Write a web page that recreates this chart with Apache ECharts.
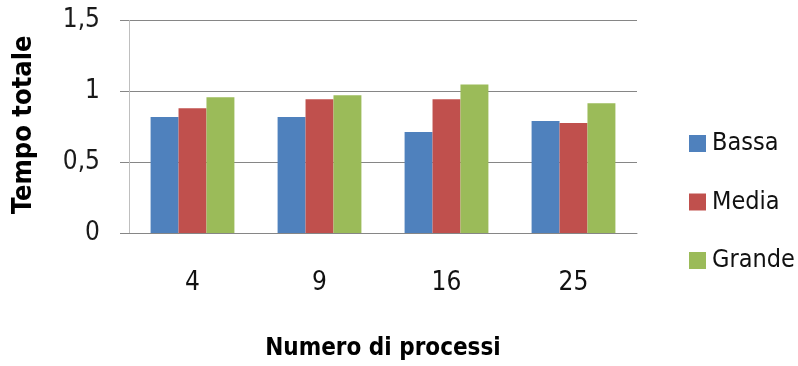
<!DOCTYPE html>
<html>
<head>
<meta charset="utf-8">
<script src="https://cdn.jsdelivr.net/npm/echarts@6/dist/echarts.min.js"></script>
<style>html,body{margin:0;padding:0;background:#fff}#c{width:798px;height:366px}</style>
</head>
<body>
<div id="c"></div>
<script>
const categories = ['4', '9', '16', '25'];
const bassa = [0.818, 0.818, 0.713, 0.790];
const media = [0.881, 0.944, 0.944, 0.776];
const grande = [0.958, 0.972, 1.049, 0.916];
const yTicks = [0, 0.5, 1, 1.5];

const FONT = "'DejaVu Sans Condensed', 'Liberation Sans', sans-serif";
const chart = echarts.init(document.getElementById('c'));
chart.setOption({
  animation: false,
  textStyle: { fontFamily: FONT },
  grid: { left: 129, right: 161, top: 20.5, bottom: 131, containLabel: false },
  legend: {
    orient: 'vertical', left: 684, top: 126,
    itemWidth: 17, itemHeight: 17, itemGap: 33.5,
    icon: 'rect',
    textStyle: { fontSize: 25, color: '#111', fontFamily: FONT, padding: [0, 0, 0, 1] },
    data: ['Bassa', 'Media', 'Grande']
  },
  xAxis: {
    type: 'category', data: categories,
    axisLine: { lineStyle: { color: '#868686', width: 1 } },
    axisTick: { show: false },
    axisLabel: { fontSize: 26, color: '#111', margin: 37, fontFamily: FONT },
    name: 'Numero di processi', nameLocation: 'middle', nameGap: 104,
    nameTextStyle: { fontSize: 24, fontWeight: 'bold', color: '#000', fontFamily: FONT }
  },
  yAxis: {
    type: 'value', min: 0, max: 1.5, interval: 0.5,
    axisLine: { show: true, lineStyle: { color: '#bfbfbf', width: 1 } },
    axisTick: { show: true, length: 9, lineStyle: { color: '#868686', width: 1 } },
    splitLine: { lineStyle: { color: '#868686', width: 1 } },
    axisLabel: { fontSize: 26, color: '#1a1a1a', margin: 29, fontFamily: FONT,
      formatter: v => (yTicks.includes(v) ? String(v).replace('.', ',') : '') },
    name: 'Tempo totale', nameLocation: 'middle', nameGap: 92, nameRotate: 90,
    nameTextStyle: { fontSize: 27, fontWeight: 'bold', color: '#000', fontFamily: FONT, padding: [0, 0, 0, 4] }
  },
  series: [
    { name: 'Bassa', type: 'bar', data: bassa, barGap: '0%', barCategoryGap: '34%', itemStyle: { color: '#4f81bd' } },
    { name: 'Media', type: 'bar', data: media, barGap: '0%', barCategoryGap: '34%', itemStyle: { color: '#c0504d' } },
    { name: 'Grande', type: 'bar', data: grande, barGap: '0%', barCategoryGap: '34%', itemStyle: { color: '#9bbb59' } }
  ]
});
</script>
</body>
</html>
